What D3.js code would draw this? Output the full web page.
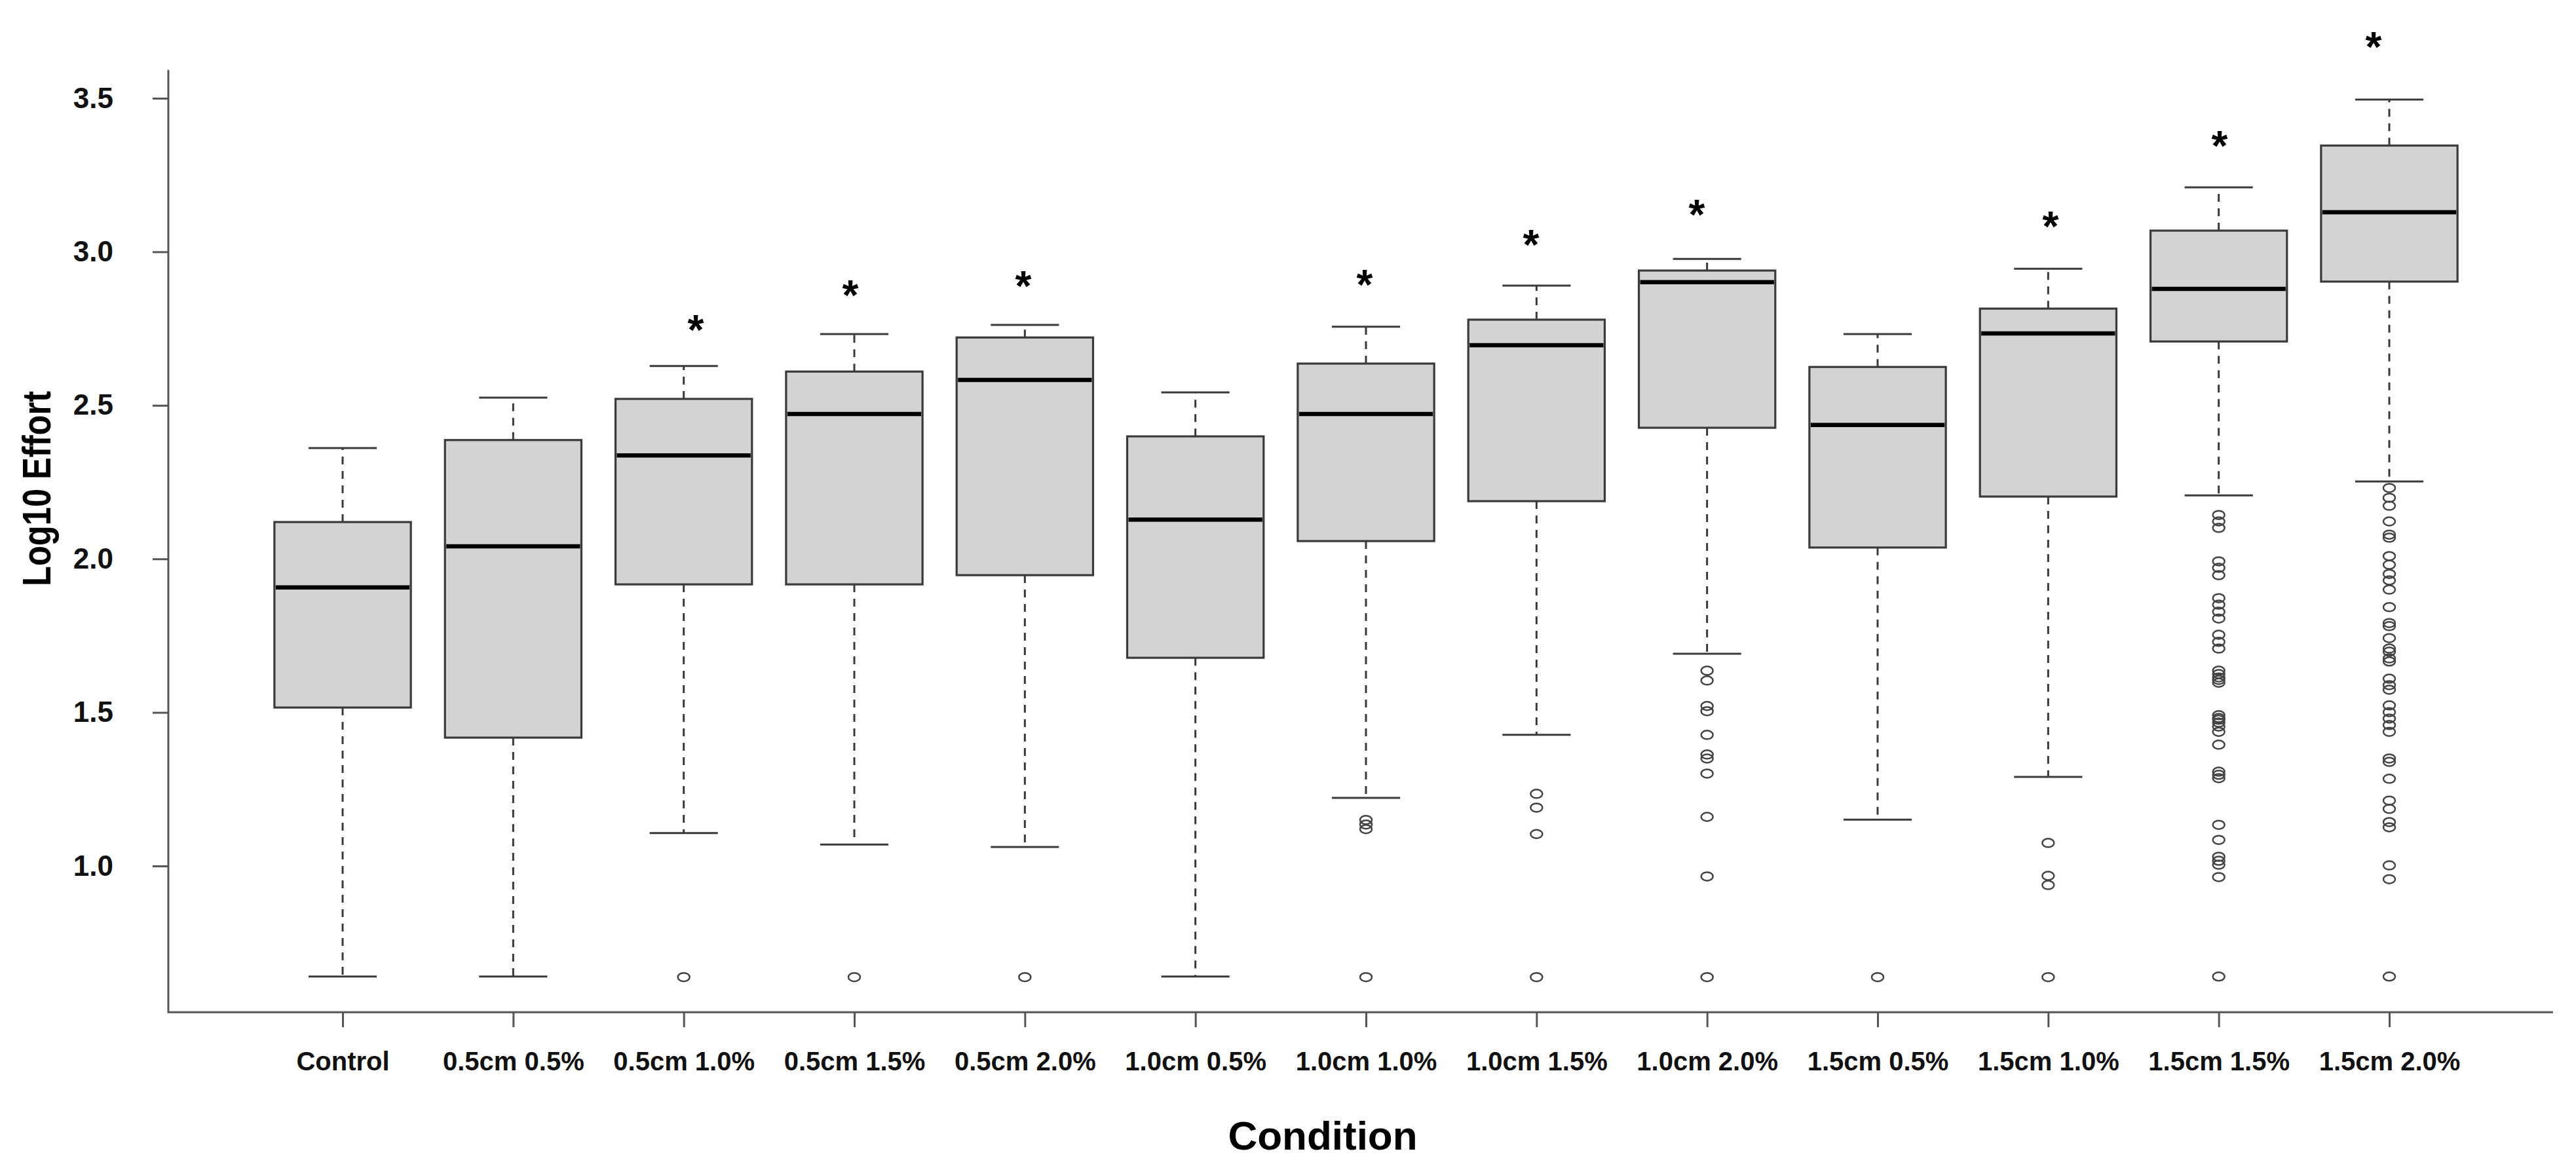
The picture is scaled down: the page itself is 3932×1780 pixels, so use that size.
<!DOCTYPE html>
<html>
<head>
<meta charset="utf-8">
<script src="https://cdn.jsdelivr.net/npm/d3@7"></script>
<style>
    body { margin: 0; background: #fff; }
    text { font-family: "Liberation Sans", Arial, sans-serif; font-weight: bold; }
</style>
</head>
<body>
<div id="output"></div>
<script>
// Box plot of log10 effort per condition (R style boxplot)

var categories = ['Control', '0.5cm 0.5%', '0.5cm 1.0%', '0.5cm 1.5%', '0.5cm 2.0%',
    '1.0cm 0.5%', '1.0cm 1.0%', '1.0cm 1.5%', '1.0cm 2.0%',
    '1.5cm 0.5%', '1.5cm 1.0%', '1.5cm 1.5%', '1.5cm 2.0%']

var whiskerLow = [0.640, 0.640, 1.107, 1.070, 1.062, 0.640, 1.222, 1.427, 1.691, 1.151, 1.290, 2.207, 2.252]
var q1 = [1.516, 1.418, 1.917, 1.917, 1.947, 1.678, 2.058, 2.188, 2.427, 2.037, 2.203, 2.708, 2.903]
var median = [1.907, 2.041, 2.337, 2.472, 2.583, 2.128, 2.472, 2.696, 2.901, 2.436, 2.734, 2.879, 3.129]
var q3 = [2.120, 2.387, 2.521, 2.610, 2.721, 2.399, 2.636, 2.779, 2.939, 2.625, 2.815, 3.069, 3.346]
var whiskerHigh = [2.361, 2.525, 2.628, 2.732, 2.762, 2.542, 2.756, 2.890, 2.977, 2.732, 2.945, 3.210, 3.496]

var outliers = [
    [],
    [],
    [0.638],
    [0.638],
    [0.638],
    [],
    [1.150, 1.135, 1.120, 0.638],
    [1.235, 1.190, 1.104, 0.638],
    [1.636, 1.604, 1.521, 1.504, 1.427, 1.363, 1.350, 1.301, 1.160, 0.966, 0.638],
    [0.638],
    [1.075, 0.968, 0.938, 0.638],
    [2.143, 2.122, 2.101, 1.992, 1.971, 1.947, 1.872, 1.851, 1.828, 1.806, 1.753, 1.730, 1.708,
        1.636, 1.625, 1.614, 1.606, 1.597, 1.491, 1.482, 1.476, 1.467, 1.454, 1.437, 1.395,
        1.307, 1.297, 1.286, 1.134, 1.085, 1.030, 1.017, 1.004, 0.964, 0.640],
    [2.231, 2.199, 2.173, 2.122, 2.079, 2.069, 2.009, 1.981, 1.951, 1.930, 1.900, 1.843,
        1.791, 1.781, 1.742, 1.708, 1.698, 1.676, 1.666, 1.610, 1.589, 1.574, 1.523, 1.501,
        1.480, 1.459, 1.437, 1.350, 1.339, 1.284, 1.213, 1.186, 1.143, 1.126, 1.002, 0.957, 0.640]
]

// significance stars (x in category units, y in data units)
var starX = [3.070, 3.977, 4.991, 6.992, 7.968, 8.940, 11.014, 12.005, 12.908]
var starY = [2.775, 2.888, 2.917, 2.922, 3.052, 3.150, 3.112, 3.374, 3.696]

var yTicks = [1.0, 1.5, 2.0, 2.5, 3.0, 3.5]

var width = 3932
var height = 1780

var x = d3.scaleLinear().domain([1, 13]).range([523, 3647])
var y = d3.scaleLinear().domain([1.0, 3.5]).range([1322, 150])

var boxHalf = 0.4
var capHalf = 0.2
var lineColor = '#3a3a3a'

var svg = d3.select('#output').append('svg')
    .attr('width', width)
    .attr('height', height)

svg.append('rect')
    .attr('width', width)
    .attr('height', height)
    .attr('fill', '#fff')

// L shaped frame
var xLeft = x(-0.022)
var xRight = x(13.96)
var yTop = y(3.592)
var yBottom = y(0.524)

svg.append('path')
    .attr('d', 'M' + xLeft + ',' + yTop + 'V' + yBottom + 'H' + xRight)
    .attr('fill', 'none')
    .attr('stroke', '#555')
    .attr('stroke-width', 3)

var yAxis = svg.append('g')
    .attr('transform', 'translate(' + xLeft + ',0)')
    .call(d3.axisLeft(y).tickValues(yTicks).tickSize(24).tickPadding(60).tickFormat(d3.format('.1f')))
yAxis.select('.domain').remove()
yAxis.selectAll('line').attr('stroke', '#555').attr('stroke-width', 3)
yAxis.selectAll('text').attr('font-size', 44).attr('fill', '#111')

var xAxis = svg.append('g')
    .attr('transform', 'translate(0,' + yBottom + ')')
    .call(d3.axisBottom(x).tickValues(d3.range(1, 14)).tickSize(23).tickPadding(37)
        .tickFormat(function(d) { return categories[d - 1] }))
xAxis.select('.domain').remove()
xAxis.selectAll('line').attr('stroke', '#555').attr('stroke-width', 3)
xAxis.selectAll('text').attr('font-size', 40).attr('fill', '#111')

var boxData = categories.map(function(c, i) {
    return {
        pos: i + 1,
        lo: whiskerLow[i],
        q1: q1[i],
        med: median[i],
        q3: q3[i],
        hi: whiskerHigh[i],
        out: outliers[i]
    }
})

var groups = svg.selectAll('.box')
    .data(boxData)
    .enter().append('g')
    .attr('class', 'box')

// whiskers
groups.append('line')
    .attr('x1', function(d) { return x(d.pos) })
    .attr('x2', function(d) { return x(d.pos) })
    .attr('y1', function(d) { return y(d.q1) })
    .attr('y2', function(d) { return y(d.lo) })
    .attr('stroke', lineColor)
    .attr('stroke-width', 3)
    .attr('stroke-dasharray', '12,10')

groups.append('line')
    .attr('x1', function(d) { return x(d.pos) })
    .attr('x2', function(d) { return x(d.pos) })
    .attr('y1', function(d) { return y(d.q3) })
    .attr('y2', function(d) { return y(d.hi) })
    .attr('stroke', lineColor)
    .attr('stroke-width', 3)
    .attr('stroke-dasharray', '12,10')

// caps
groups.selectAll('.cap')
    .data(function(d) { return [{pos: d.pos, v: d.lo}, {pos: d.pos, v: d.hi}] })
    .enter().append('line')
    .attr('class', 'cap')
    .attr('x1', function(d) { return x(d.pos - capHalf) })
    .attr('x2', function(d) { return x(d.pos + capHalf) })
    .attr('y1', function(d) { return y(d.v) })
    .attr('y2', function(d) { return y(d.v) })
    .attr('stroke', lineColor)
    .attr('stroke-width', 3)

// boxes
groups.append('rect')
    .attr('x', function(d) { return x(d.pos - boxHalf) })
    .attr('width', function(d) { return x(d.pos + boxHalf) - x(d.pos - boxHalf) })
    .attr('y', function(d) { return y(d.q3) })
    .attr('height', function(d) { return y(d.q1) - y(d.q3) })
    .attr('fill', '#d3d3d3')
    .attr('stroke', lineColor)
    .attr('stroke-width', 3.2)

// medians
groups.append('line')
    .attr('x1', function(d) { return x(d.pos - boxHalf) + 2 })
    .attr('x2', function(d) { return x(d.pos + boxHalf) - 2 })
    .attr('y1', function(d) { return y(d.med) })
    .attr('y2', function(d) { return y(d.med) })
    .attr('stroke', '#000')
    .attr('stroke-width', 6.5)

// outliers
groups.selectAll('.outlier')
    .data(function(d) { return d.out.map(function(v) { return {pos: d.pos, v: v} }) })
    .enter().append('ellipse')
    .attr('class', 'outlier')
    .attr('cx', function(d) { return x(d.pos) })
    .attr('cy', function(d) { return y(d.v) })
    .attr('rx', 9)
    .attr('ry', 6.5)
    .attr('fill', 'none')
    .attr('stroke', '#444')
    .attr('stroke-width', 2.5)

// stars
var starSize = 64
svg.selectAll('.star')
    .data(starX)
    .enter().append('text')
    .attr('class', 'star')
    .attr('x', function(d) { return x(d) })
    .attr('y', function(d, i) { return y(starY[i]) + starSize * 0.56 })
    .attr('text-anchor', 'middle')
    .attr('font-size', starSize)
    .attr('fill', '#000')
    .text('*')

// axis titles
svg.append('text')
    .attr('x', 2019)
    .attr('y', 1755)
    .attr('text-anchor', 'middle')
    .attr('font-size', 62)
    .attr('fill', '#000')
    .text('Condition')

svg.append('text')
    .attr('transform', 'translate(77,746) rotate(-90)')
    .attr('text-anchor', 'middle')
    .attr('font-size', 62)
    .attr('textLength', 298)
    .attr('lengthAdjust', 'spacingAndGlyphs')
    .attr('fill', '#000')
    .text('Log10 Effort')
</script>
</body>
</html>
